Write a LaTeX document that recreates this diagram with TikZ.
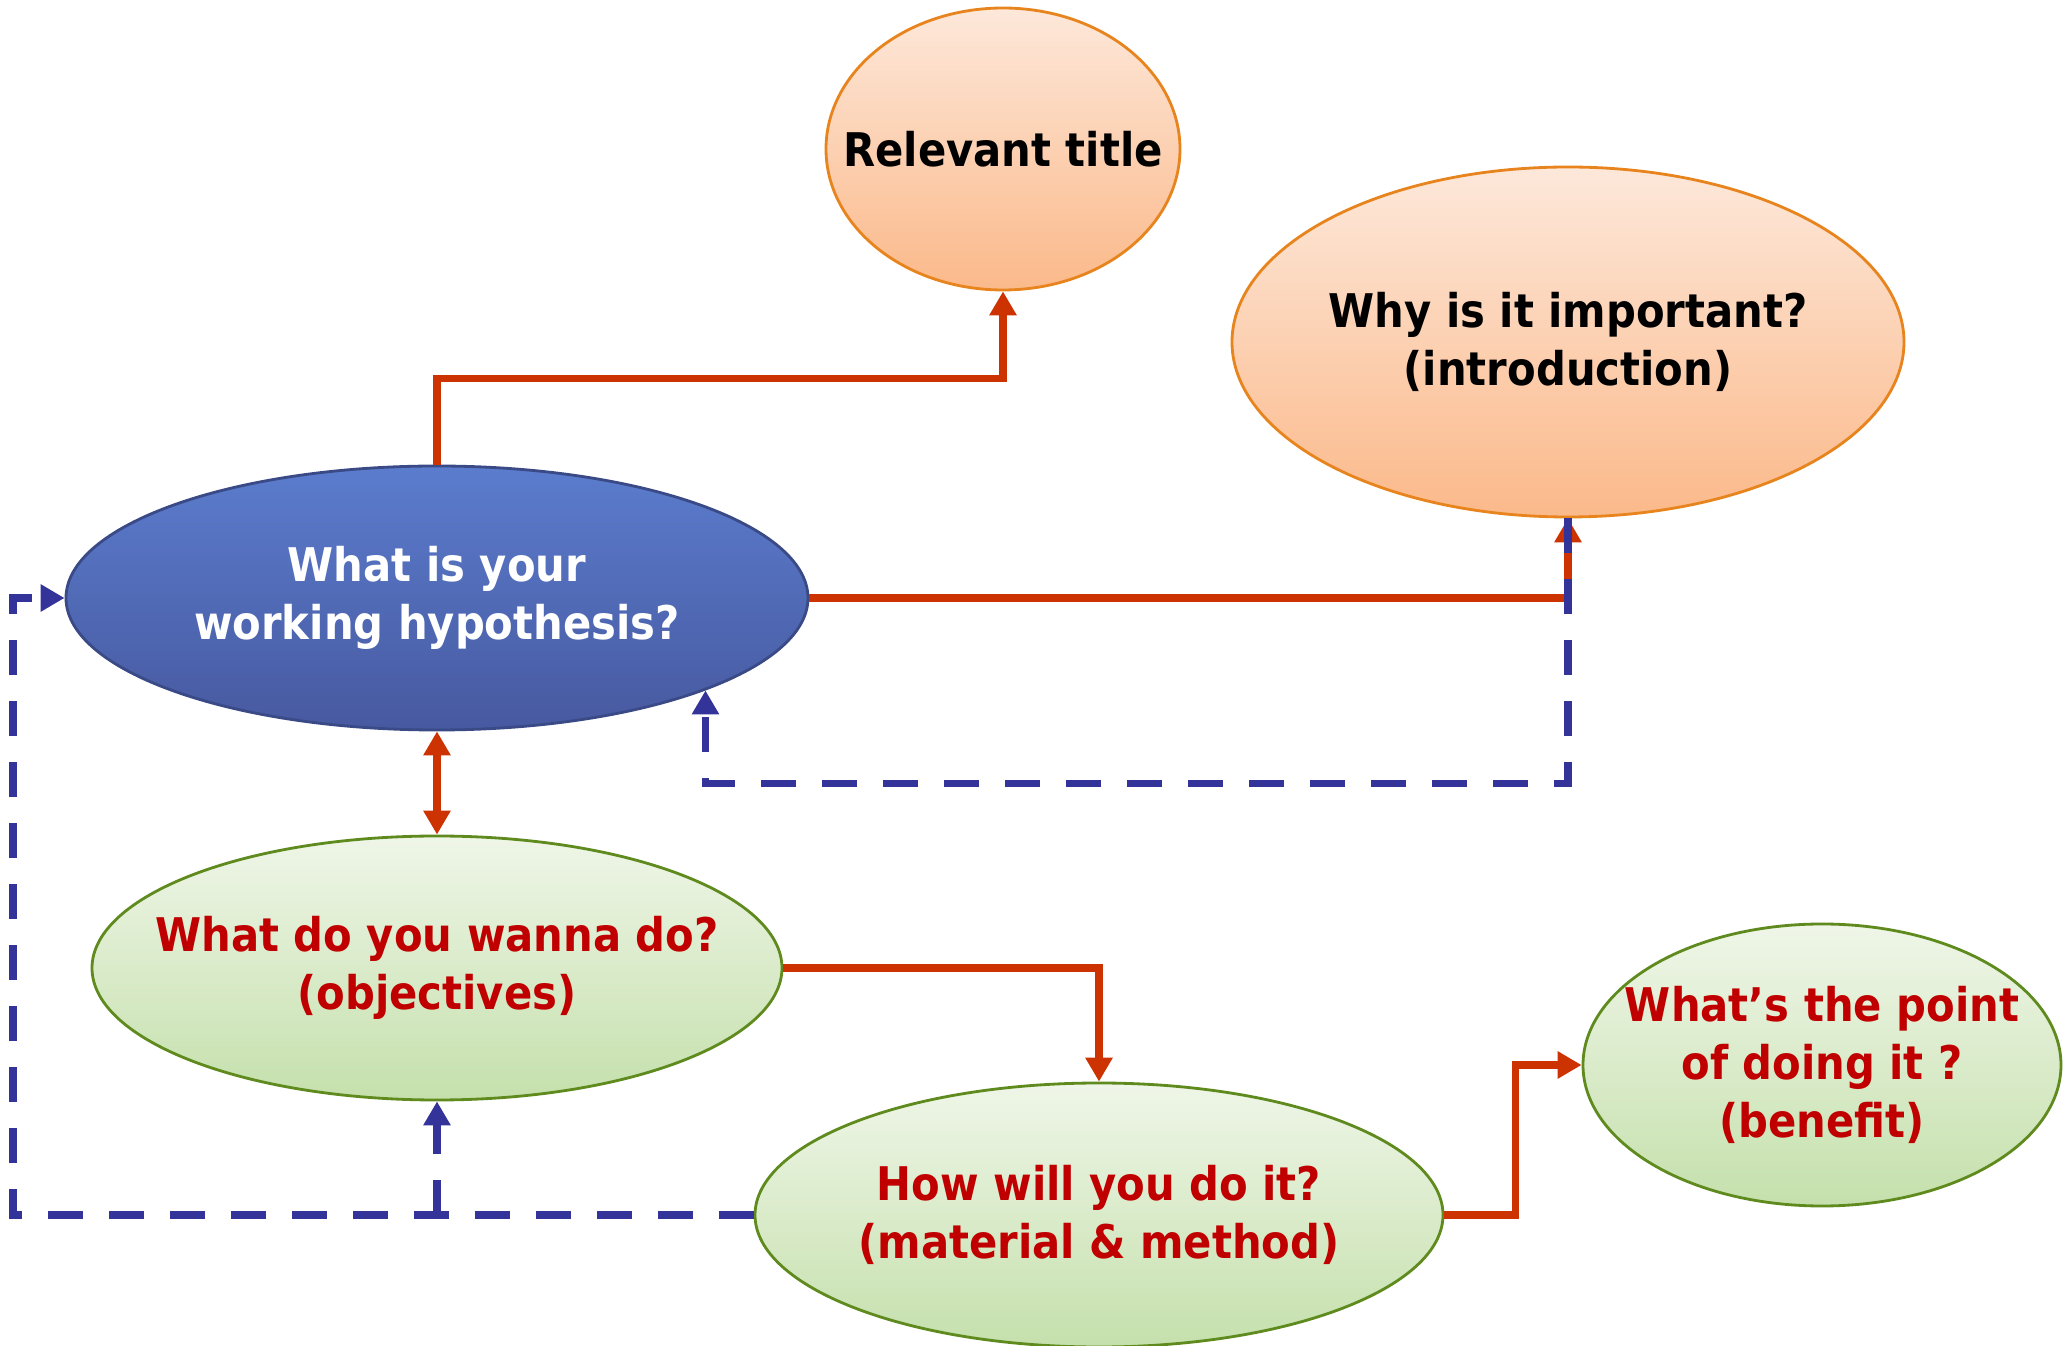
\documentclass[tikz,border=0pt]{standalone}
\usepackage{fontspec}
\setmainfont{DejaVu Sans Condensed}
\usepackage{tikz}
\usetikzlibrary{positioning, arrows.meta, shapes.geometric}

\definecolor{linered}{HTML}{CC3300}
\definecolor{dashblue}{HTML}{333399}
\definecolor{textred}{HTML}{C00000}
\definecolor{peachtop}{HTML}{FDE8DA}
\definecolor{peachbot}{HTML}{FBB98A}
\definecolor{peachline}{HTML}{E8841E}
\definecolor{greentop}{HTML}{EFF6E8}
\definecolor{greenbot}{HTML}{C5E0AC}
\definecolor{greenline}{HTML}{5F8A1E}
\definecolor{hypotop}{HTML}{5B7CCD}
\definecolor{hypobot}{HTML}{4759A0}
\definecolor{hypoline}{HTML}{3A4A86}

% zero-width line, so the ellipse keeps its own size
\newcommand{\tight}[1]{\makebox[0pt]{#1}}

\tikzset{
  bubble/.style={ellipse, inner sep=0pt, align=center,
    font=\fontsize{13.2}{16.4}\selectfont\bfseries},
  peach/.style={bubble, draw=peachline, thick, top color=peachtop, bottom color=peachbot},
  green/.style={bubble, draw=greenline, thick, top color=greentop, bottom color=greenbot, text=textred},
  redline/.style={draw=linered, line width=2.1pt, -{Triangle[width=0.26cm, length=0.24cm]}},
  bluedash/.style={draw=dashblue, line width=2.1pt, dash pattern=on 0.35cm off 0.26cm,
    -{Triangle[width=0.26cm, length=0.24cm]}}
}

\begin{document}
\begin{tikzpicture}
    \useasboundingbox (0,0) rectangle (20.69,-13.46);

    \node [peach, minimum width=3.54cm, minimum height=2.82cm] (title) at (10.03,-1.49) {\tight{Relevant title}};
    \node [peach, minimum width=6.72cm, minimum height=3.50cm] (why) at (15.68,-3.42) {\tight{Why is it important?}\\\tight{(introduction)}};
    \node [bubble, draw=hypoline, thick, top color=hypotop, bottom color=hypobot, text=white,
           minimum width=7.42cm, minimum height=2.64cm] (hypo) at (4.37,-5.98) {\tight{What is your}\\\tight{working hypothesis?}};
    \node [green, minimum width=6.90cm, minimum height=2.64cm] (objective) at (4.37,-9.68) {\tight{What do you wanna do?}\\\tight{(objectives)}};
    \node [green, minimum width=6.88cm, minimum height=2.64cm] (method) at (10.99,-12.15) {\tight{How will you do it?}\\\tight{(material \& method)}};
    \node [green, minimum width=4.78cm, minimum height=2.82cm] (benefit) at (18.22,-10.65) {\tight{What’s the point}\\\tight{of doing it ?}\\\tight{(benefit)}};
    \coordinate (leftrail) at (0.13,0);

    \draw [redline] (hypo.north) -- ++(0,0.86) -| (title.south);
    \draw [redline] (hypo.east) -| (why.south);
    \draw [bluedash] (why.south) -- ++(0,-2.65) -| (hypo.-19.5);
    \draw [redline, {Triangle[width=0.26cm, length=0.24cm]}-{Triangle[width=0.26cm, length=0.24cm]}] (hypo.south) -- (objective.north);
    \draw [redline] (objective.east) -| (method.north);
    \draw [redline] (method.east) -- ++(0.71,0) |- (benefit.west);
    \draw [bluedash] (method.west) -- (method.west -| leftrail) |- (hypo.west);
    \draw [bluedash] (objective.south |- method.west) -- (objective.south);
\end{tikzpicture}
\end{document}
